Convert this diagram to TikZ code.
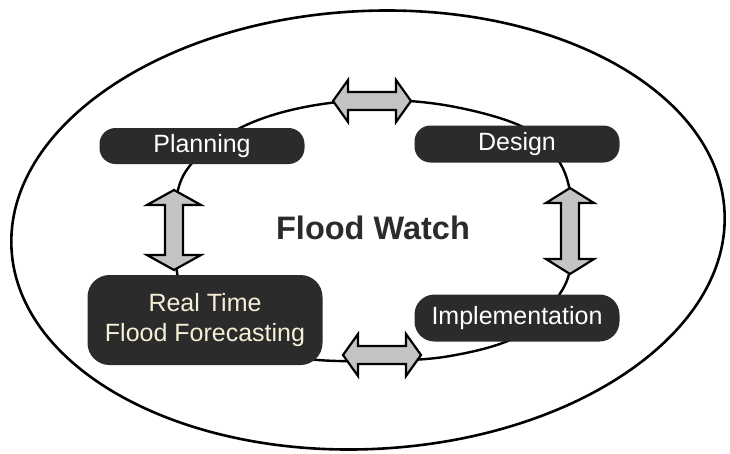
\documentclass[tikz,border=0pt]{standalone}
\usepackage{fontspec}
\setmainfont{Liberation Sans}
\definecolor{nodegray}{HTML}{2B2B2B}
\definecolor{arrowfill}{HTML}{C4C4C4}
\definecolor{creamtext}{HTML}{F4EFD6}
\newcommand{\blockarrow}[5]{%
  \begin{scope}[shift={(#1,#2)},rotate=#3]
    \draw[dblarrow] (-#4,0) -- (-#4+15,#5) -- (-#4+15,9) -- (#4-15,9) -- (#4-15,#5) -- (#4,0)
      -- (#4-15,-#5) -- (#4-15,-9) -- (-#4+15,-9) -- (-#4+15,-#5) -- cycle;
  \end{scope}}
\begin{document}
\begin{tikzpicture}[x=1pt,y=-1pt,
  stage/.style={fill=nodegray, text=white, inner sep=0pt, align=center,
    font=\fontsize{25}{30}\selectfont},
  ringline/.style={line width=2.4pt, black},
  dblarrow/.style={line width=2.2pt, draw=black, fill=arrowfill, line join=miter},
  title/.style={font=\fontsize{32.5}{36}\bfseries\selectfont, text=nodegray}
]
\useasboundingbox (0,0) rectangle (730,453);
% outer ellipse
\draw[line width=2.6pt, rotate around={3:(368,230)}] (368,230) ellipse [x radius=357, y radius=219];
% inner ring
\draw[ringline] plot[smooth cycle, tension=0.6] coordinates {
  (372,100) (450,106) (525,128) (560,163) (572,205) (572,255) (561,292)
  (520,335) (450,356) (372,361) (300,358) (230,340) (190,310) (176,265)
  (176,200) (193,162) (240,128) (300,108)};
% stages
\node[stage, minimum width=205pt, minimum height=36pt, rounded corners=16pt] (plan) at (202,146) {Planning};
\node[stage, minimum width=205pt, minimum height=37pt, rounded corners=16pt] (design) at (517,144) {Design};
\node[stage, minimum width=235pt, minimum height=90pt, rounded corners=22pt, text=creamtext] (rtff) at (205,320) {Real Time\\Flood Forecasting};
\node[stage, minimum width=205pt, minimum height=47pt, rounded corners=20pt] (impl) at (517,318) {Implementation};
\node[title] (fw) at (373,228) {Flood Watch};
% block arrows on the ring
\blockarrow{372}{101}{0}{39}{21}
\blockarrow{382}{355}{0}{39}{21}
\blockarrow{174}{230}{90}{40}{27}
\blockarrow{570}{231}{90}{43}{24}
\end{tikzpicture}
\end{document}
